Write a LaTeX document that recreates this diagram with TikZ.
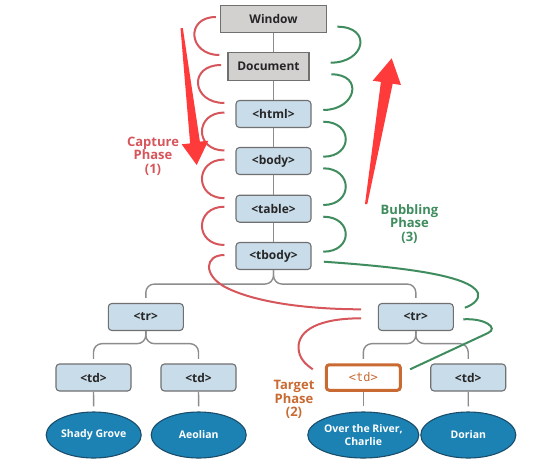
\documentclass[tikz,border=0pt]{standalone}
\usepackage{fontspec}
\setmainfont{Open Sans}
\newfontfamily\codefont{DejaVu Sans Mono}
\usetikzlibrary{calc,shapes.geometric}

\definecolor{boxblue}{HTML}{C9DCEA}
\definecolor{boxgray}{HTML}{D3D1D0}
\definecolor{edgegray}{HTML}{707070}
\definecolor{linkgray}{HTML}{8C8C8C}
\definecolor{leafblue}{HTML}{1C82B4}
\definecolor{leafedge}{HTML}{1A4D6B}
\definecolor{capred}{HTML}{D6565B}
\definecolor{bubgreen}{HTML}{3F8C5E}
\definecolor{targetorange}{HTML}{C96A32}
\definecolor{arrowred}{HTML}{FF3A3A}

\begin{document}
\begin{tikzpicture}[x=1pt,y=-1pt,
  docbox/.style={draw=edgegray, fill=boxgray, line width=1.2pt,
    minimum width=#1, minimum height=27.5, inner sep=0pt,
    font=\bfseries\fontsize{12}{14}\selectfont, text=black!85},
  tagbox/.style={draw=edgegray, fill=boxblue, rounded corners=3.5pt,
    line width=1.1pt, minimum width=75, minimum height=27, inner sep=0pt,
    font=\bfseries\fontsize{12}{14}\selectfont, text=black!85},
  targetbox/.style={draw=targetorange, fill=white, rounded corners=3pt,
    line width=3pt, minimum width=74, minimum height=25.5, inner sep=0pt,
    font=\codefont\fontsize{12}{14}\selectfont, text=targetorange},
  leaf/.style={ellipse, draw=leafedge, fill=leafblue, line width=1.1pt,
    minimum width=95, minimum height=46, inner sep=0pt, align=center,
    font=\bfseries\fontsize{10.5}{13.3}\selectfont, text=white},
  link/.style={draw=linkgray, line width=1.4pt},
  branch/.style={link, rounded corners=8.5pt},
  capture/.style={draw=capred, line width=2pt},
  bubble/.style={draw=bubgreen, line width=2pt},
  phase/.style={font=\bfseries\fontsize{13}{13.5}\selectfont, align=center},
  bigarrow/.style={fill=arrowred}
]
\fill[white] (0,0) rectangle (534,471);
\useasboundingbox (0,0) rectangle (534,471);

% document tree
\node[docbox=106] (window)   at (273.5,19)   {Window};
\node[docbox=81]  (document) at (268.5,66.5) {Document};
\node[tagbox] (html)  at (273.5,114)   {<html>};
\node[tagbox] (body)  at (273.5,161)   {<body>};
\node[tagbox] (table) at (273.5,208.7) {<table>};
\node[tagbox] (tbody) at (273.5,256)   {<tbody>};
\node[tagbox] (trL) at (145.8,317) {<tr>};
\node[tagbox] (trR) at (415.8,317) {<tr>};
\node[tagbox] (tdA) at (93.5,377.5)  {<td>};
\node[tagbox] (tdB) at (198.5,377.5) {<td>};
\node[targetbox] (tdT) at (363.3,377.5) {<td>};
\node[tagbox] (tdD) at (468.2,377.5) {<td>};
\node[leaf] (leafA) at (93.7,435)  {Shady Grove};
\node[leaf] (leafB) at (198.7,435) {Aeolian};
\node[leaf] (leafC) at (363.3,435) {Over the River,\\Charlie};
\node[leaf] (leafD) at (468.3,435) {Dorian};

% tree links
\draw[link] (window.south) -- (window.south |- document.north);
\draw[link] (html.north) -- (html.north |- document.south);
\draw[link] (html) -- (body);
\draw[link] (body) -- (table);
\draw[link] (table) -- (tbody);
\draw[branch] (tbody.south) -- ($(tbody.south)+(0,14)$) -| ($(trL.north)+(0,-5)$);
\draw[branch] (tbody.south) -- ($(tbody.south)+(0,14)$) -| ($(trR.north)+(0,-5)$);
\draw[branch] (trL.south) -- ($(trL.south)+(0,12.6)$) -| ($(tdA.north)+(0,-4.5)$);
\draw[branch] (trL.south) -- ($(trL.south)+(0,12.6)$) -| ($(tdB.north)+(0,-4.5)$);
\draw[branch] (trR.south) -- ($(trR.south)+(0,12.6)$) -| ($(tdT.north)+(0,-4.5)$);
\draw[branch] (trR.south) -- ($(trR.south)+(0,12.6)$) -| ($(tdD.north)+(0,-4.5)$);
\foreach \t/\l in {tdA/leafA, tdB/leafB, tdT/leafC, tdD/leafD}
  \draw[link] (\t.south) -- ($(\l.north)+(0,-5)$);

% capture phase loops
\draw[capture] ($(window.west)+(-4,-2)$) .. controls +(-31,0) and +(-31,0) .. ($(document.west)+(-8,-11.5)$);
\draw[capture] ($(document.west)+(-6.3,-1.5)$) .. controls +(-33,0) and +(-33,0) .. ($(html.west)+(-11,-11)$);
\draw[capture] ($(html.west)+(-11,-1.5)$) .. controls +(-30,0) and +(-30,0) .. ($(body.west)+(-11,-10.5)$);
\draw[capture] ($(body.west)+(-11,-1.5)$) .. controls +(-30,0) and +(-30,0) .. ($(table.west)+(-11,-10.5)$);
\draw[capture] ($(table.west)+(-11,-2)$) .. controls +(-30,0) and +(-30,0) .. ($(tbody.west)+(-11,-11)$);
\draw[capture] ($(tbody.west)+(-11,-1)$) .. controls +(-20,0) and (203,275) .. (225,287)
  .. controls (260,305) and (320,309.3) .. ($(trR.west)+(-16.6,-7.7)$);
\draw[capture] ($(trR.west)+(-16.6,1.3)$) .. controls +(-42,0) and (298,330) .. (298.5,348)
  .. controls (299,358) and (305,364) .. ($(tdT.west)+(-12,-8.2)$);

% bubbling phase loops
\draw[bubble] ($(window.east)+(10.2,7.7)$) .. controls +(35,0) and +(35,0) .. ($(document.east)+(21,-3.8)$);
\draw[bubble] ($(document.east)+(21.7,7.8)$) .. controls +(33,0) and +(33,0) .. ($(html.east)+(11.7,-4)$);
\draw[bubble] ($(html.east)+(11.7,7.7)$) .. controls +(30,0) and +(30,0) .. ($(body.east)+(11.7,-4.3)$);
\draw[bubble] ($(body.east)+(11.7,7.3)$) .. controls +(30,0) and +(30,0) .. ($(table.east)+(11.7,-3.7)$);
\draw[bubble] ($(table.east)+(11.7,8)$) .. controls +(30,0) and +(30,0) .. ($(tbody.east)+(11.7,-4.3)$);
\draw[bubble] ($(tbody.east)+(12.3,5.7)$) .. controls (400,267) and (470,275) .. (478,293)
  .. controls (480,299) and (473,305) .. ($(trR.east)+(11,-9.3)$);
\draw[bubble] ($(trR.east)+(9.4,2.3)$) .. controls (485,318) and (498.9,327.9) .. (488,333)
  -- ($(tdT.east)+(8.3,-8.2)$);

% phase arrows
\fill[bigarrow] (180.5,28) -- (190.1,143.4) -- (181.7,144.3) -- (196.7,165)
  -- (208.3,140.7) -- (199.9,141.6) -- (182.8,28) -- cycle;
\fill[bigarrow] (365,204) -- (380.9,81.9) -- (372.7,80.7) -- (391.7,58.3)
  -- (401,85) -- (392.7,83.7) -- (367.3,204) -- cycle;

% phase labels
\node[phase, text=capred] (capturelabel) at (153,156) {Capture\\Phase\\(1)};
\node[phase, text=bubgreen] (bubblelabel) at (409.5,224) {Bubbling\\Phase\\(3)};
\node[phase, text=targetorange] (targetlabel) at (294,399.5) {Target\\Phase\\(2)};
\end{tikzpicture}
\end{document}
